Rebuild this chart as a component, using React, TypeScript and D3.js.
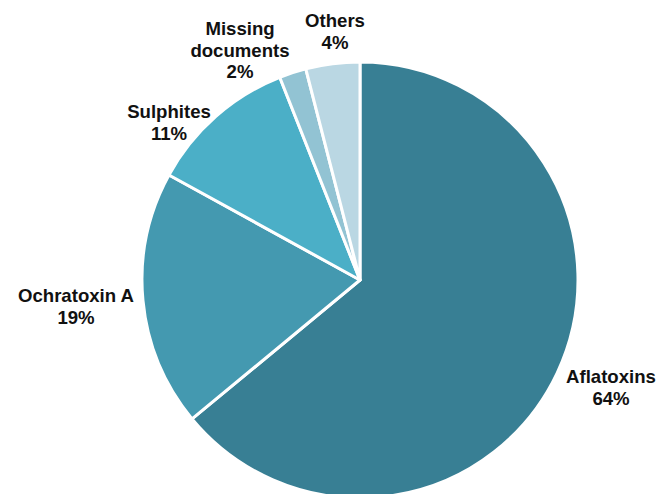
import React from "react";
import * as d3 from "d3";

const categories = ["Aflatoxins", "Ochratoxin A", "Sulphites", "Missing documents", "Others"];
const values = [64, 19, 11, 2, 4];
const colors = ["#387f94", "#4499b0", "#4bafc7", "#92c3d3", "#bad7e3"];
const labelLines = [
  ["Aflatoxins", "64%"],
  ["Ochratoxin A", "19%"],
  ["Sulphites", "11%"],
  ["Missing", "documents", "2%"],
  ["Others", "4%"],
];
// label anchor positions (center x, first baseline y)
const labelPos: [number, number][] = [
  [611, 383],
  [76, 302],
  [169, 118],
  [240, 35],
  [335, 27],
];

export default function App() {
  const W = 658, H = 494;
  const cx = 360, cy = 280, r = 218;
  const pie = d3.pie<number>().sort(null).value((d) => d)(values);
  const arc = d3.arc<d3.PieArcDatum<number>>().innerRadius(0).outerRadius(r);
  return (
    <svg width={W} height={H} style={{ position: "absolute", left: 0, top: 0, background: "#fff" }}>
      <g transform={`translate(${cx},${cy})`}>
        {pie.map((p, i) => (
          <path key={categories[i]} d={arc(p) || ""} fill={colors[i]} stroke="#fff" strokeWidth={3} strokeLinejoin="round" />
        ))}
      </g>
      {labelLines.map((lines, i) => (
        <text
          key={categories[i]}
          x={labelPos[i][0]}
          y={labelPos[i][1]}
          textAnchor="middle"
          fontFamily="'Liberation Sans', Arial, sans-serif"
          fontWeight="bold"
          fontSize={18.6}
          fill="#111"
        >
          {lines.map((l, j) => (
            <tspan key={j} x={labelPos[i][0]} dy={j === 0 ? 0 : 21.5}>
              {l}
            </tspan>
          ))}
        </text>
      ))}
    </svg>
  );
}
